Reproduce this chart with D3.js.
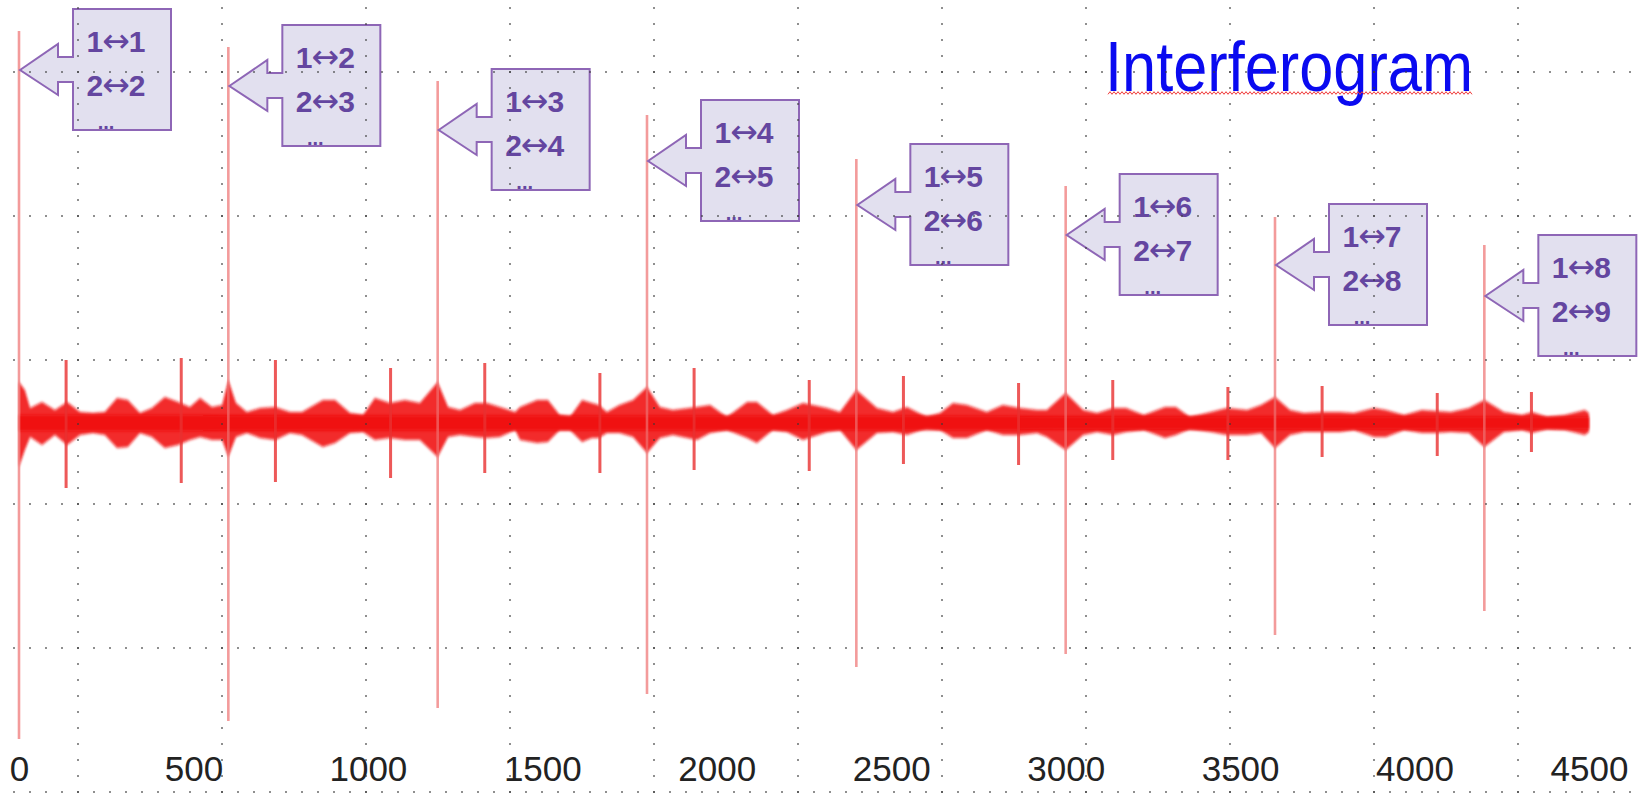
<!DOCTYPE html>
<html>
<head>
<meta charset="utf-8">
<script src="https://cdn.jsdelivr.net/npm/d3@7"></script>
<style>
  html, body { margin: 0; padding: 0; background: #ffffff; overflow: hidden; }
  svg { display: block; }
</style>
</head>
<body>
<svg id="chart" width="1643" height="793"></svg>
<script>
// ---- Data -------------------------------------------------------------
// Sample index labels along the bottom
const xTicks = [0, 500, 1000, 1500, 2000, 2500, 3000, 3500, 4000, 4500];

// Main interference bursts: position, positive and negative extremes (a.u.)
const burstPos    = [0, 600, 1200, 1800, 2400, 3000, 3600, 4200];
const burstTop    = [98, 94, 85.5, 77, 66, 59.25, 51.5, 44.5];
const burstBottom = [-79, -74.5, -71.25, -67.75, -61, -57.75, -53, -47];

// Side bursts between the main ones
const echoPos    = [135, 465, 735, 1065, 1335, 1665, 1935, 2265, 2535, 2865, 3135, 3465, 3735, 4065, 4335];
const echoTop    = [15.75, 16.25, 15.75, 13.75, 15, 12.5, 13.75, 10.75, 11.75, 10, 10.75, 9, 9.25, 7.5, 7.75];
const echoBottom = [-16.25, -15, -14.75, -13.75, -12.5, -12.5, -11.75, -12, -10.25, -10.5, -9.25, -9.25, -8.5, -8.25, -7.25];

// Noise envelope of the recorded signal (upper / lower extremes)
const envPos = [
  0, 17, 32, 66, 103, 138, 175, 212,
  246, 281, 312, 347, 381, 418, 456, 490,
  519, 553, 582, 600, 622, 653, 691, 734,
  777, 811, 871, 906, 949, 986, 1020, 1063,
  1106, 1149, 1200, 1230, 1264, 1307, 1341, 1378,
  1422, 1436, 1485, 1516, 1550, 1579, 1614, 1642,
  1662, 1685, 1721, 1760, 1800, 1837, 1874, 1943,
  1981, 2029, 2087, 2115, 2161, 2201, 2247, 2316,
  2353, 2400, 2459, 2505, 2545, 2602, 2640, 2677,
  2717, 2774, 2820, 2869, 2918, 2946, 3000, 3050,
  3090, 3136, 3173, 3224, 3285, 3316, 3356, 3416,
  3462, 3520, 3560, 3600, 3643, 3683, 3735, 3786,
  3826, 3884, 3918, 3970, 4021, 4061, 4104, 4156,
  4200, 4256, 4308, 4337, 4380, 4431, 4488, 4500
];
const envUpper = [
  10.25, 8.25, 3.75, 5.25, 3.25, 5.25, 2.75, 2.5,
  2.75, 6.25, 5.75, 2.5, 3.75, 6.5, 5.25, 4,
  6.25, 4, 4.5, 10.75, 5, 2.75, 3.75, 4,
  2.75, 2.75, 5.75, 5.75, 2.5, 2, 6.25, 5,
  5.75, 5, 10.25, 4, 3.25, 5, 5, 4,
  2.75, 4, 5.75, 5.75, 2, 1.5, 5.75, 5,
  4.5, 2.75, 4.5, 5.75, 9, 4, 3.25, 4,
  4.5, 1.5, 5.25, 5.25, 2, 3.25, 5, 3.75,
  2.75, 8.25, 3.75, 2.75, 4, 1.5, 2.5, 5,
  4.5, 2.75, 4.5, 3.75, 3.25, 3.25, 7.5, 3.25,
  2.5, 3.75, 3.75, 2, 4, 4, 1.5, 2.75,
  3.75, 3.25, 4.5, 6.5, 3.25, 2.5, 2.75, 2.75,
  2.5, 3.75, 3.25, 2, 3.25, 3, 2.75, 3.75,
  5.75, 2.75, 2, 2.75, 1.5, 2, 3.25, 2.5
];
const envLower = [
  -11, -6.75, -3.5, -5.5, -3, -5.5, -3, -2.5,
  -3, -6.25, -6, -2.5, -3.5, -6.25, -5.5, -4.25,
  -3.5, -4.25, -4.25, -8.5, -3.5, -2.5, -3.75, -4.25,
  -2.5, -3, -6, -5, -2.5, -2.25, -4.25, -3.75,
  -4.25, -4.25, -8.5, -3.5, -3, -3.5, -3.75, -3.5,
  -1.75, -4.25, -5, -4.75, -1.75, -1.75, -4.75, -3.75,
  -3.75, -2.5, -2.5, -3.5, -7.5, -3.75, -3, -4.25,
  -2.5, -1.75, -3.75, -5, -1.75, -2.25, -4.25, -2.25,
  -1.75, -6.75, -2.5, -2.25, -3, -1.25, -1.75, -3.75,
  -3.75, -1.75, -3, -3, -2.5, -3.5, -6.75, -3,
  -2.25, -3, -2.25, -1.75, -3.75, -3, -1.5, -2.25,
  -3, -3, -2.5, -6.25, -3, -2.25, -2.25, -2.25,
  -1.75, -3.5, -3.5, -1.75, -2.5, -2.5, -2.25, -2.5,
  -6, -2.25, -1.75, -2.5, -1.5, -1.75, -3, -2.25
];

// Dense core of the noise band (half width)
const corePos  = [0, 500, 1000, 1500, 2000, 2500, 3000, 3500, 4000, 4500];
const coreHalf = [2.0, 2.0, 1.9, 1.9, 1.8, 1.8, 1.7, 1.7, 1.6, 1.5];

// Callouts: which detector pairs interfere at each burst
const calloutA = [1, 1, 1, 1, 1, 1, 1, 1];
const calloutB = [1, 2, 3, 4, 5, 6, 7, 8];
const calloutC = [2, 2, 2, 2, 2, 2, 2, 2];
const calloutD = [2, 3, 4, 5, 6, 7, 8, 9];
const calloutLevel = [88.25, 84.25, 73.25, 65.5, 54.5, 47, 39.5, 31.75];

const titleText = "Interferogram";

// ---- Layout -----------------------------------------------------------
const W = 1643, H = 793;
const svg = d3.select("#chart");

const x = d3.scaleLinear().domain([0, 4500]).range([19, 1589]);
const y = d3.scaleLinear().domain([-100, 100]).range([823, 23]);

const defs = svg.append("defs");
defs.append("filter").attr("id", "soft")
  .attr("filterUnits", "userSpaceOnUse")
  .attr("x", 0).attr("y", 0).attr("width", W).attr("height", H)
  .append("feGaussianBlur").attr("stdDeviation", "1 1.6");
defs.append("filter").attr("id", "softLine")
  .attr("filterUnits", "userSpaceOnUse")
  .attr("x", 0).attr("y", 0).attr("width", W).attr("height", H)
  .append("feGaussianBlur").attr("stdDeviation", "0.55");

const plot = svg.append("g");

// Noise band: soft outer envelope, then the dense core
const envData = envPos.map((p, i) => ({ p, hi: envUpper[i], lo: envLower[i] }));
plot.append("path")
  .datum(envData)
  .attr("d", d3.area().x(d => x(d.p)).y0(d => y(d.lo)).y1(d => y(d.hi)))
  .attr("fill", "#f01010")
  .attr("fill-opacity", 0.88)
  .attr("filter", "url(#soft)");

const coreData = corePos.map((p, i) => ({ p, h: coreHalf[i] }));
plot.append("path")
  .datum(coreData)
  .attr("d", d3.area().x(d => x(d.p)).y0(d => y(-d.h)).y1(d => y(d.h)))
  .attr("fill", "#f00808")
  .attr("fill-opacity", 0.9)
  .attr("filter", "url(#soft)");

// Side bursts
plot.selectAll("line.echo")
  .data(echoPos.map((p, i) => ({ p, t: echoTop[i], b: echoBottom[i] })))
  .join("line")
  .attr("class", "echo")
  .attr("x1", d => x(d.p)).attr("x2", d => x(d.p))
  .attr("y1", d => y(d.t)).attr("y2", d => y(d.b))
  .attr("stroke", "#e83030")
  .attr("stroke-opacity", 0.8)
  .attr("stroke-width", 3)
  .attr("filter", "url(#softLine)");

// Main bursts
plot.selectAll("line.burst")
  .data(burstPos.map((p, i) => ({ p, t: burstTop[i], b: burstBottom[i] })))
  .join("line")
  .attr("class", "burst")
  .attr("x1", d => x(d.p)).attr("x2", d => x(d.p))
  .attr("y1", d => y(d.t)).attr("y2", d => y(d.b))
  .attr("stroke", "#ee7070")
  .attr("stroke-opacity", 0.7)
  .attr("stroke-width", 2.6)
  .attr("filter", "url(#softLine)");

// Sample index labels
const axisG = svg.append("g")
  .attr("transform", "translate(0,781)")
  .call(d3.axisBottom(x).tickValues(xTicks).tickSize(0).tickPadding(0).tickFormat(d3.format("d")));
axisG.select(".domain").remove();
axisG.selectAll("text")
  .attr("y", 0).attr("dy", 0)
  .attr("fill", "#222222")
  .style("font-family", "'Liberation Sans', Arial, sans-serif")
  .style("font-size", "35px");

// Callouts
const calloutG = svg.append("g");
const labelFont = "'Liberation Sans', Arial, sans-serif";
burstPos.forEach((p, i) => {
  const tx = x(p) + 1, ty = y(calloutLevel[i]);
  const bl = tx + 53, br = bl + 98, bt = ty - 61, bb = ty + 60;
  const hb = tx + 38;
  const shape = [
    [tx, ty], [hb, ty - 26], [hb, ty - 13], [bl, ty - 13], [bl, bt], [br, bt],
    [br, bb], [bl, bb], [bl, ty + 12], [hb, ty + 12], [hb, ty + 25]
  ];
  const g = calloutG.append("g");
  g.append("path")
    .attr("d", d3.line()(shape) + "Z")
    .attr("fill", "#e2e0ef")
    .attr("stroke", "#8e66b6")
    .attr("stroke-width", 2)
    .attr("stroke-linejoin", "miter");
  const pairLine = (a, b, yy) => {
    const t = g.append("text")
      .attr("x", bl + 43).attr("y", yy)
      .attr("text-anchor", "middle")
      .attr("fill", "#6446a0")
      .style("font-family", labelFont)
      .style("font-size", "30px")
      .style("font-weight", "bold");
    t.append("tspan").text(a);
    t.append("tspan")
      .attr("dx", -1)
      .style("font-family", "'DejaVu Sans', sans-serif")
      .style("font-weight", "normal")
      .style("font-size", "33px")
      .text("\u2194");
    t.append("tspan").attr("dx", -1).text(b);
  };
  pairLine(calloutA[i], calloutB[i], bt + 43);
  pairLine(calloutC[i], calloutD[i], bt + 87);
  g.append("text")
    .attr("x", bl + 33).attr("y", bb - 1)
    .attr("text-anchor", "middle")
    .attr("fill", "#6446a0")
    .style("font-family", labelFont)
    .style("font-size", "20px")
    .style("font-weight", "bold")
    .text("...");
});

// Title with its wavy spell-check underline
svg.append("text")
  .attr("x", 1105).attr("y", 91)
  .attr("fill", "#0a0af0")
  .attr("textLength", 368)
  .attr("lengthAdjust", "spacingAndGlyphs")
  .style("font-family", labelFont)
  .style("font-size", "71px")
  .text(titleText);
const wave = d3.range(1108, 1473, 2).map((px, i) => [px, 93 + (i % 2 ? -1.3 : 1.3)]);
svg.append("path")
  .attr("d", d3.line()(wave))
  .attr("fill", "none")
  .attr("stroke", "#f03a3a")
  .attr("stroke-width", 1);

// Drawing-guide dot grid on top of everything
const gridG = svg.append("g").attr("fill", "#3a3a3a");
const gridRows = d3.range(72, H + 1, 144);
const gridCols = d3.range(78, W, 144);
const dotsAlongX = d3.range(14, W, 16);
const dotsAlongY = d3.range(8, H, 16);
gridRows.forEach(gy => {
  gridG.selectAll(null).data(dotsAlongX).join("rect")
    .attr("x", d => d - 0.75).attr("y", gy - 0.75)
    .attr("width", 1.5).attr("height", 1.5);
});
gridCols.forEach(gx => {
  gridG.selectAll(null).data(dotsAlongY).join("rect")
    .attr("x", gx - 0.75).attr("y", d => d - 0.75)
    .attr("width", 1.5).attr("height", 1.5);
});
</script>
</body>
</html>
